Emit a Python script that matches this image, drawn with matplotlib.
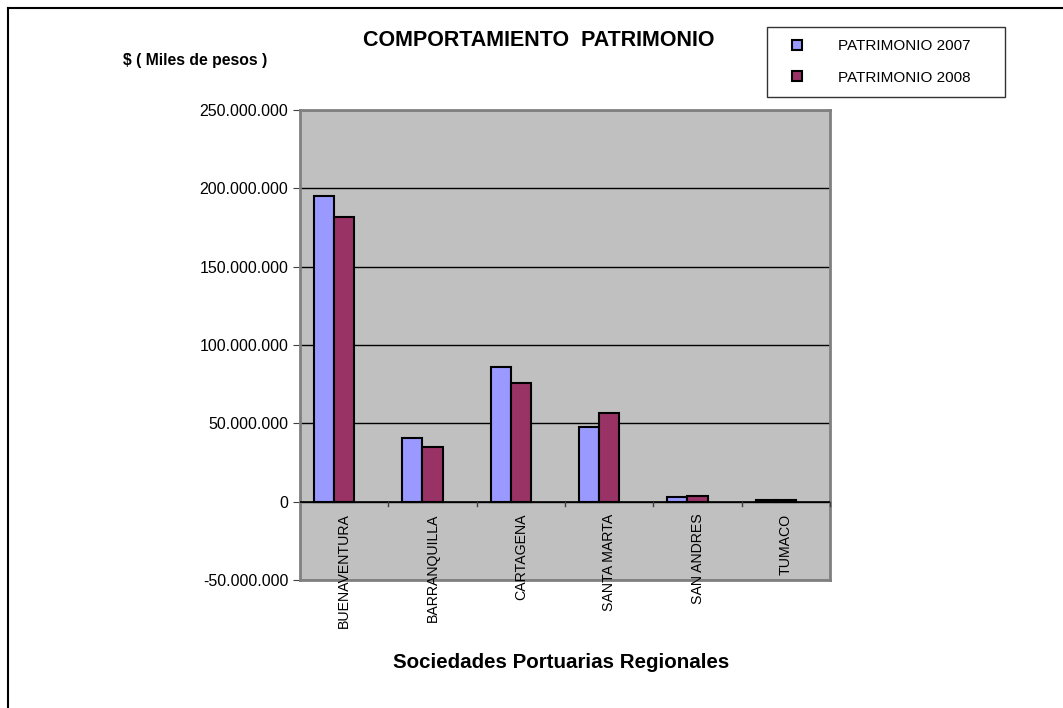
import matplotlib.pyplot as plt
import matplotlib.ticker as mticker
from matplotlib.lines import Line2D
import numpy as np

plt.rcParams['font.family'] = ['Liberation Sans', 'DejaVu Sans']

categorias = ['BUENAVENTURA', 'BARRANQUILLA', 'CARTAGENA', 'SANTA MARTA', 'SAN ANDRES', 'TUMACO']
patrimonio_2007 = [195200000, 40600000, 86100000, 47800000, 2700000, 900000]
patrimonio_2008 = [181400000, 35100000, 75900000, 56800000, 3300000, 900000]
y_ticks = [-50000000, 0, 50000000, 100000000, 150000000, 200000000, 250000000]

fig = plt.figure(figsize=(10.63, 7.08), dpi=100)
ax = fig.add_axes([300 / 1063, 1 - 580 / 708, 530 / 1063, 470 / 708])
ax.set_facecolor('#C0C0C0')

x = np.arange(len(categorias))
w = 0.2265
ax.bar(x - w, patrimonio_2007, w, color='#9999FF', edgecolor='black', linewidth=1.5, zorder=3)
ax.bar(x, patrimonio_2008, w, color='#993366', edgecolor='black', linewidth=1.5, zorder=3)

ax.set_xlim(-0.5, len(categorias) - 0.5)
ax.set_ylim(-50000000, 250000000)
ax.set_yticks(y_ticks)
ax.yaxis.set_major_formatter(mticker.FuncFormatter(lambda v, p: f'{int(v):,}'.replace(',', '.')))
ax.tick_params(axis='y', labelsize=11.5, length=5, direction='out', color='#404040')
ax.grid(axis='y', color='black', linewidth=1, zorder=1)

# eje de categorias en cero
ax.set_xticks([])
ax.axhline(0, color='black', linewidth=1.2, zorder=4)
for b in np.arange(0.5, len(categorias), 1.0):
    ax.plot([b, b], [0, -2800000], color='#404040', linewidth=1, zorder=4, clip_on=False)
for i, c in enumerate(categorias):
    ax.text(i, -7500000, c, rotation=90, ha='center', va='top', fontsize=10.2, zorder=5)

for s in ax.spines.values():
    s.set_color('#808080')
    s.set_linewidth(2)

fig.text(539 / 1063, 1 - 40 / 708, 'COMPORTAMIENTO  PATRIMONIO', ha='center', va='center',
         fontsize=15.5, fontweight='bold')
fig.text(195 / 1063, 1 - 60 / 708, '$ ( Miles de pesos )', ha='center', va='center',
         fontsize=11.3, fontweight='bold')
fig.text(561 / 1063, 1 - 663 / 708, 'Sociedades Portuarias Regionales', ha='center', va='center',
         fontsize=14.8, fontweight='bold')

# leyenda
handles = [Line2D([], [], marker='s', linestyle='', markersize=7, markerfacecolor='#9999FF',
                  markeredgecolor='black', markeredgewidth=1.5),
           Line2D([], [], marker='s', linestyle='', markersize=7, markerfacecolor='#993366',
                  markeredgecolor='black', markeredgewidth=1.5)]
leg = fig.legend(handles, ['PATRIMONIO 2007', 'PATRIMONIO 2008'], loc='upper left',
                 bbox_to_anchor=(767 / 1063, 1 - 95 / 708, 238 / 1063, 68 / 708),
                 bbox_transform=fig.transFigure, mode='expand',
                 frameon=True, fancybox=False, edgecolor='black', fontsize=11,
                 handletextpad=1.5, labelspacing=1.15, borderpad=0.8, handlelength=2.35,
                 borderaxespad=0)
leg.get_frame().set_linewidth(1)

# borde del area del grafico
fig.add_artist(Line2D([8 / 1063, 8 / 1063], [0, 1 - 8 / 708], color='black', linewidth=1.5,
                      transform=fig.transFigure))
fig.add_artist(Line2D([8 / 1063, 1], [1 - 8 / 708, 1 - 8 / 708], color='black', linewidth=1.5,
                      transform=fig.transFigure))

fig.savefig('out.png', dpi=100)
